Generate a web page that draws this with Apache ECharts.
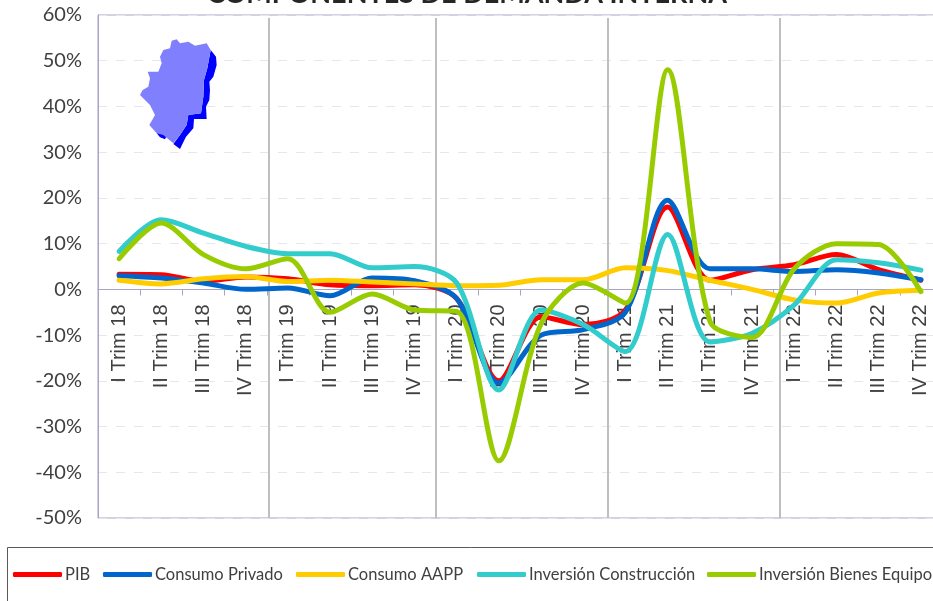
<!DOCTYPE html>
<html><head><meta charset="utf-8">
<style>html,body{margin:0;padding:0;background:#fff;overflow:hidden}#c{width:933px;height:601px}</style>
<script src="https://cdn.jsdelivr.net/npm/echarts@6/dist/echarts.min.js"></script>
</head><body><div id="c"></div>
<script>
const categories = ['I Trim 18','II Trim 18','III Trim 18','IV Trim 18','I Trim 19','II Trim 19','III Trim 19','IV Trim 19','I Trim 20','II Trim 20','III Trim 20','IV Trim 20','I Trim 21','II Trim 21','III Trim 21','IV Trim 21','I Trim 22','II Trim 22','III Trim 22','IV Trim 22'];
const pib = [3.3,3.2,1.8,2.7,2.3,1,0.8,1,-2,-20,-6,-7.7,-4.5,18,2,4.3,5.4,7.6,4.3,2];
const consumoPrivado = [3,2.5,1.4,0,0.3,-1.4,2.5,1.9,-2,-20.5,-10,-8.8,-5,19.5,4.5,4.5,3.9,4.3,3.6,2.1];
const consumoAAPP = [2,1.2,2.3,2.8,1.7,2,1.6,1.2,0.8,0.9,2.1,2.1,4.7,4.1,2,0,-2.3,-3,-0.8,-0.2];
const invConstruccion = [8.3,15.2,12.3,9.4,7.8,7.8,4.7,5,1.4,-22,-4.5,-7.7,-13.6,12,-11.5,-9.6,-3.4,6.5,5.8,4.2];
const invEquipo = [6.7,14.5,7.6,4.5,6.7,-5,-1,-4.5,-4.8,-37.5,-7.5,1.4,-3,48,-7,-10.5,4.5,10,9.8,-0.5];
const yTicks = {min:-50,max:60,interval:10};
const seriesDefs = [
  ['PIB',pib,'#ff0000',13],
  ['Consumo Privado',consumoPrivado,'#0066cc',103],
  ['Consumo AAPP',consumoAAPP,'#ffcc00',296],
  ['Inversión Construcción',invConstruccion,'#33cccc',477],
  ['Inversión Bienes Equipo',invEquipo,'#99cc00',707]
];
const dividers = [269,436,608,780];
const logoLight = [[515,122],[530,118],[540,130],[565,125],[585,137],[620,130],[632,150],[628,170],[622,205],[612,240],[610,290],[603,340],[565,345],[560,375],[540,405],[520,430],[490,405],[470,400],[448,375],[465,345],[450,315],[420,285],[428,270],[445,260],[450,235],[443,215],[475,215],[485,190],[480,170],[490,150],[510,145]];
const logoDark = [[632,150],[648,170],[650,195],[640,230],[628,245],[630,270],[628,300],[618,320],[620,357],[582,357],[580,385],[558,410],[540,447],[520,432],[540,405],[560,375],[565,345],[603,340],[610,290],[612,240],[622,205]];
const logoDark2 = [[470,400],[480,398],[500,408],[495,418],[480,412]];
const scale = p => p.map(([x,y]) => [x/3,y/3]);
const axisColor = '#a9a4c4';
const chart = echarts.init(document.getElementById('c'),null,{renderer:'canvas'});
chart.setOption({
  animation:false,
  backgroundColor:'#fff',
  title:{text:'COMPONENTES DE DEMANDA INTERNA',left:462,textAlign:'center',top:-24,textStyle:{fontFamily:'Lato',fontSize:27,fontWeight:'bold',color:'#262626'}},
  grid:{left:98,top:15,width:844,height:503,show:true,borderColor:axisColor,borderWidth:1,backgroundColor:'transparent',outerBoundsMode:'none',containLabel:false},
  xAxis:{type:'category',data:categories,boundaryGap:true,position:'bottom',offset:-228.5,
    axisLine:{show:true,onZero:false,lineStyle:{color:axisColor,width:1}},
    axisTick:{show:true,length:6,lineStyle:{color:axisColor}},
    axisLabel:{interval:0,rotate:90,margin:15,fontFamily:'Liberation Sans',fontSize:20,color:'#404040'},
    splitLine:{show:false}},
  yAxis:{type:'value',min:yTicks.min,max:yTicks.max,interval:yTicks.interval,
    axisLine:{show:true,lineStyle:{color:axisColor}},axisTick:{show:false},
    axisLabel:{margin:16,fontFamily:'Lato',fontSize:20,color:'#404040',formatter:v=>v+'%'},
    splitLine:{show:true,lineStyle:{color:'#e6e6ee',type:[9,9],width:1}}},
  legend:seriesDefs.map(d=>({data:[d[0]],left:d[3],top:566,itemWidth:49,itemHeight:5,icon:'roundRect',padding:0,
    textStyle:{fontFamily:'Lato',fontSize:16.5,color:'#404040',padding:[0,0,0,-2]}})),
  series:seriesDefs.map(d=>({name:d[0],type:'line',data:d[1],smooth:0.3,symbol:'none',color:d[2],
    lineStyle:{color:d[2],width:5,cap:'round',join:'round'},z:3})),
  graphic:[
    {type:'rect',shape:{x:7.5,y:547.5,width:1000,height:100},style:{fill:'none',stroke:'#595959',lineWidth:1},z:1},
    ...dividers.map(x=>({type:'line',shape:{x1:x,y1:18,x2:x,y2:518},style:{stroke:'#bfbfbf',lineWidth:2},z:1})),
    {type:'polygon',shape:{points:scale(logoDark)},style:{fill:'#0000ff'},z:1},
    {type:'polygon',shape:{points:scale(logoDark2)},style:{fill:'#0000ff'},z:1},
    {type:'polygon',shape:{points:scale(logoLight)},style:{fill:'#8080ff'},z:1}
  ]
});
</script></body></html>
